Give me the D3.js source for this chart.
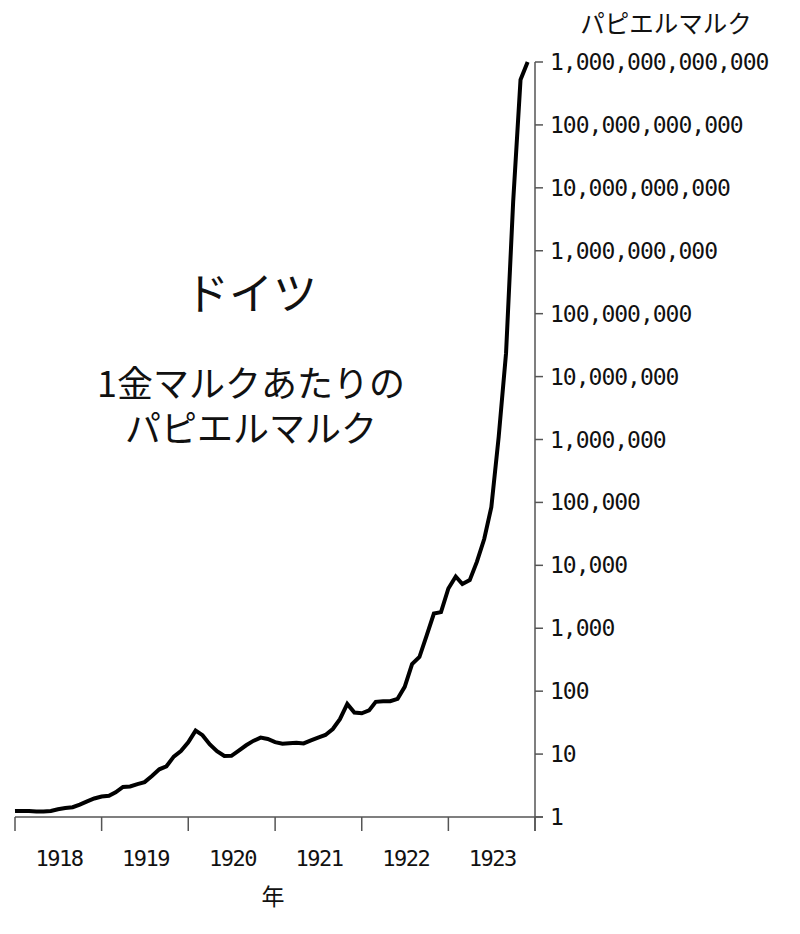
<!DOCTYPE html>
<html>
<head>
<meta charset="utf-8">
<script src="https://cdn.jsdelivr.net/npm/d3@7"></script>
<style>
  body { margin: 0; background: #fff; }
  svg { display: block; }
</style>
</head>
<body>
<div id="chart"></div>
<script>
// paper marks per 1 gold mark, monthly, Jan 1918 .. Dec 1923
const years = [1918, 1919, 1920, 1921, 1922, 1923];
const rate1918 = [1.24, 1.25, 1.24, 1.22, 1.22, 1.25, 1.33, 1.39, 1.43, 1.57, 1.77, 1.97];
const rate1919 = [2.12, 2.17, 2.47, 3.0, 3.06, 3.34, 3.59, 4.48, 5.73, 6.39, 9.12, 11.14];
const rate1920 = [15.4, 23.6, 20.0, 14.2, 11.1, 9.32, 9.4, 11.4, 13.8, 16.2, 18.3, 17.4];
const rate1921 = [15.5, 14.6, 14.9, 15.1, 14.8, 16.5, 18.3, 20.1, 25.0, 35.8, 62.6, 45.7];
const rate1922 = [44.5, 49.5, 67.7, 69.3, 69.1, 75.5, 117, 270, 349, 757, 1710, 1807];
const rate1923 = [4279, 6647, 5045, 5823, 11350, 26182, 84146, 1100108, 23538095, 6.014e9, 5.22e11, 1e12];
const yTicks = [1, 10, 100, 1e3, 1e4, 1e5, 1e6, 1e7, 1e8, 1e9, 1e10, 1e11, 1e12];
const subtitleLines = ['1金マルクあたりの', 'パピエルマルク'];

const series = [rate1918, rate1919, rate1920, rate1921, rate1922, rate1923]
    .flatMap((arr, yi) => arr.map((v, m) => ({ date: new Date(years[yi], m, 1), value: v })));

const width = 800, height = 934;
const plotLeft = 15, plotRight = 535, plotTop = 62, plotBottom = 817;
const axisColor = '#555';
const mono = '"DejaVu Sans Mono", monospace';
const jp = '"Noto Sans CJK JP", "Noto Sans", sans-serif';

const svg = d3.select('#chart').append('svg')
    .attr('width', width)
    .attr('height', height);

const x = d3.scaleTime()
    .domain([new Date(1918, 0, 1), new Date(1924, 0, 1)])
    .range([plotLeft, plotRight]);

const y = d3.scaleLog()
    .domain([1, 1e12])
    .range([plotBottom, plotTop]);

// x axis
const xg = svg.append('g').attr('transform', `translate(0,${plotBottom})`);
xg.append('line')
    .attr('x1', plotLeft).attr('x2', plotRight + 8)
    .attr('stroke', axisColor).attr('stroke-width', 1.5);
const yearStarts = years.concat([1924]).map(yr => new Date(yr, 0, 1));
xg.selectAll('.xt').data(yearStarts).join('line')
    .attr('x1', d => x(d)).attr('x2', d => x(d))
    .attr('y1', 0).attr('y2', 14)
    .attr('stroke', axisColor).attr('stroke-width', 1.5);
xg.selectAll('.xl').data(years).join('text')
    .attr('x', d => x(new Date(d, 6, 1)) + 1)
    .attr('y', 41)
    .attr('text-anchor', 'middle')
    .attr('dominant-baseline', 'central')
    .style('font-family', mono)
    .style('font-size', '22px')
    .style('letter-spacing', '-1.5px')
    .attr('fill', '#111')
    .text(d => d);
svg.append('text')
    .attr('x', 273).attr('y', 895)
    .attr('text-anchor', 'middle')
    .attr('dominant-baseline', 'central')
    .style('font-family', jp)
    .style('font-size', '23px')
    .attr('fill', '#111')
    .text('年');

// y axis (right)
const yg = svg.append('g').attr('transform', `translate(${plotRight},0)`);
yg.append('line')
    .attr('y1', plotTop).attr('y2', plotBottom + 14)
    .attr('stroke', axisColor).attr('stroke-width', 1.5);
yg.selectAll('.yt').data(yTicks).join('line')
    .attr('x1', 0).attr('x2', 8)
    .attr('y1', d => y(d)).attr('y2', d => y(d))
    .attr('stroke', axisColor).attr('stroke-width', 1.5);
yg.selectAll('.yl').data(yTicks).join('text')
    .attr('x', 15)
    .attr('y', d => y(d))
    .attr('dominant-baseline', 'central')
    .style('font-family', mono)
    .style('font-size', '23px')
    .style('letter-spacing', '-1px')
    .attr('fill', '#111')
    .text(d => d3.format(',.0f')(d));
svg.append('text')
    .attr('x', 666).attr('y', 22)
    .attr('text-anchor', 'middle')
    .attr('dominant-baseline', 'central')
    .style('font-family', jp)
    .style('font-size', '24.5px')
    .attr('fill', '#111')
    .text('パピエルマルク');

// line
const line = d3.line()
    .x(d => x(d.date))
    .y(d => y(d.value));
svg.append('path')
    .datum(series)
    .attr('d', line)
    .attr('fill', 'none')
    .attr('stroke', '#000')
    .attr('stroke-width', 4)
    .attr('stroke-linejoin', 'miter');

// titles
svg.append('text')
    .attr('x', 251).attr('y', 291)
    .attr('text-anchor', 'middle')
    .attr('dominant-baseline', 'central')
    .style('font-family', jp)
    .style('font-size', '44px')
    .attr('fill', '#111')
    .text('ドイツ');
svg.append('text')
    .attr('text-anchor', 'middle')
    .style('font-family', jp)
    .style('font-size', '36px')
    .attr('fill', '#111')
    .selectAll('tspan').data(subtitleLines).join('tspan')
    .attr('x', 251)
    .attr('y', (d, i) => 381 + i * 45)
    .attr('dominant-baseline', 'central')
    .text(d => d);
</script>
</body>
</html>
